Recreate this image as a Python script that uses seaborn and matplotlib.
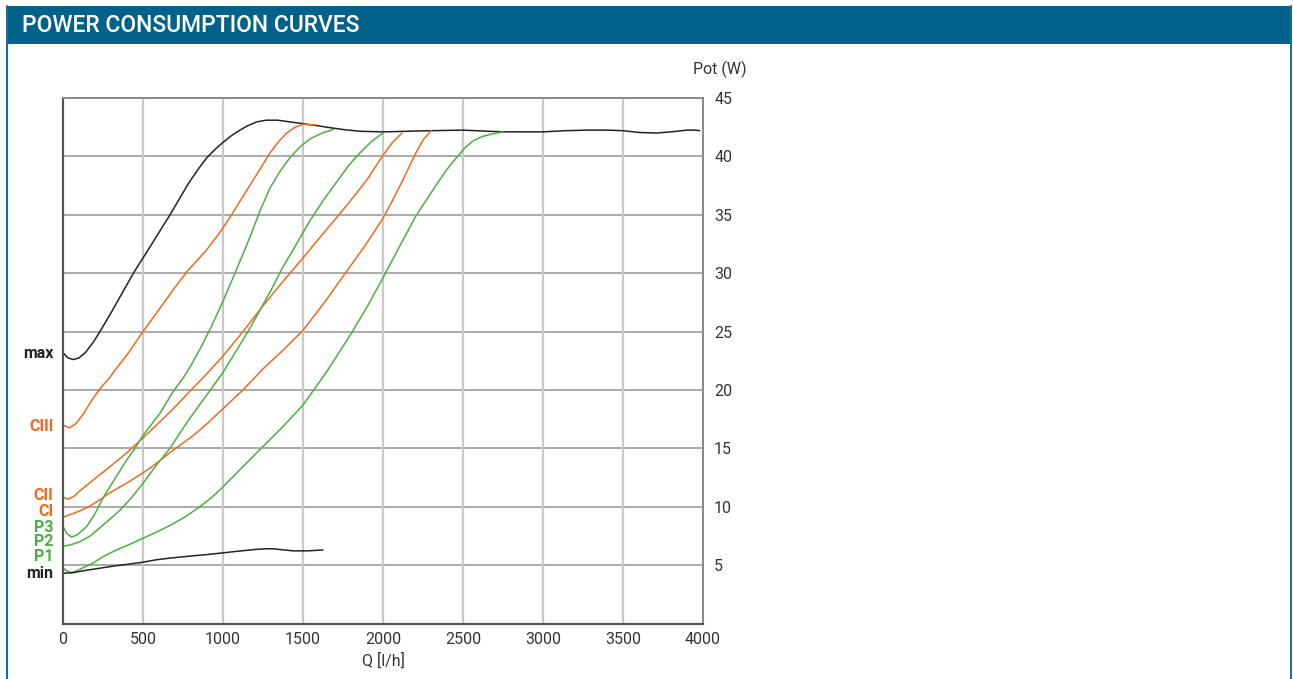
import pandas as pd
import matplotlib.pyplot as plt
from matplotlib.patches import Rectangle
from matplotlib.lines import Line2D
import seaborn as sns

# Curves: flow Q [l/h] vs power Pot [W]
max_q = [0, 30, 65, 100, 140, 190, 231, 300, 370, 440, 555, 669, 785, 850, 900, 950, 1000, 1050,
         1100, 1150, 1210, 1270, 1340, 1420, 1500, 1580, 1648, 1750, 1855, 2000, 2150, 2294, 2500,
         2750, 3000, 3140, 3275, 3400, 3500, 3600, 3710, 3800, 3900, 3950, 3980]
max_p = [23.2, 22.75, 22.6, 22.75, 23.2, 24.1, 25.0, 26.6, 28.3, 30.0, 32.5, 35.0, 37.7, 39.0, 39.9,
         40.6, 41.2, 41.75, 42.2, 42.6, 42.95, 43.1, 43.1, 42.95, 42.8, 42.65, 42.5, 42.3, 42.15, 42.1,
         42.15, 42.2, 42.25, 42.1, 42.1, 42.2, 42.25, 42.25, 42.2, 42.05, 42.0, 42.1, 42.25, 42.25, 42.2]

ciii_q = [0, 40, 80, 130, 179, 231, 300, 336, 400, 500, 606, 690, 773, 898, 981, 1040, 1085, 1140,
          1190, 1245, 1294, 1350, 1398, 1450, 1500, 1580]
ciii_p = [17.0, 16.75, 17.1, 18.0, 19.1, 20.1, 21.2, 21.9, 23.0, 25.0, 27.0, 28.6, 30.1, 32.0, 33.5, 34.7,
          35.7, 36.9, 38.0, 39.2, 40.3, 41.3, 42.0, 42.5, 42.75, 42.7]

cii_q = [0, 31, 70, 100, 190, 300, 398, 500, 585, 690, 794, 900, 1000, 1125, 1250, 1375, 1500, 1620,
         1731, 1820, 1900, 2000, 2060, 2119]
cii_p = [10.8, 10.65, 10.9, 11.3, 12.3, 13.5, 14.6, 15.9, 17.0, 18.4, 19.9, 21.4, 22.9, 25.0, 27.2, 29.3,
         31.3, 33.3, 35.1, 36.6, 38.0, 40.1, 41.2, 42.0]

ci_q = [0, 70, 148, 220, 294, 420, 544, 690, 815, 900, 1000, 1125, 1250, 1375, 1500, 1640, 1775, 1890,
        2000, 2070, 2125, 2170, 2206, 2250, 2300]
ci_p = [9.1, 9.45, 9.9, 10.5, 11.2, 12.2, 13.3, 14.85, 16.1, 17.1, 18.4, 20.0, 21.8, 23.4, 25.1, 27.6,
        30.2, 32.4, 34.7, 36.5, 38.0, 39.3, 40.3, 41.4, 42.2]

p3_q = [0, 25, 54, 90, 148, 200, 252, 320, 398, 450, 500, 606, 690, 750, 800, 860, 919, 960, 1000,
        1075, 1169, 1230, 1294, 1360, 1419, 1480, 1544, 1620, 1690]
p3_p = [8.3, 7.7, 7.4, 7.6, 8.3, 9.4, 10.8, 12.3, 14.0, 15.0, 16.1, 18.0, 19.9, 21.0, 22.1, 23.6, 25.2,
        26.4, 27.6, 30.0, 33.1, 35.3, 37.3, 38.8, 39.9, 40.8, 41.5, 42.0, 42.3]

p2_q = [0, 50, 106, 170, 231, 290, 356, 430, 500, 580, 669, 730, 794, 900, 1000, 1085, 1169, 1250,
        1310, 1369, 1438, 1544, 1630, 1710, 1790, 1856, 1930, 2000]
p2_p = [6.6, 6.75, 7.0, 7.5, 8.2, 8.9, 9.7, 10.8, 12.0, 13.5, 15.0, 16.3, 17.6, 19.6, 21.5, 23.4, 25.3,
        27.3, 28.8, 30.4, 32.0, 34.5, 36.3, 37.8, 39.3, 40.3, 41.3, 42.0]

p1_q = [0, 25, 54, 100, 190, 260, 335, 420, 500, 580, 669, 760, 856, 930, 1000, 1115, 1231, 1370,
        1500, 1650, 1800, 1900, 2000, 2100, 2210, 2335, 2400, 2460, 2510, 2560, 2620, 2690, 2750]
p1_p = [4.75, 4.5, 4.35, 4.6, 5.2, 5.8, 6.3, 6.8, 7.3, 7.8, 8.4, 9.1, 10.0, 10.8, 11.7, 13.3, 14.9, 16.8,
        18.7, 21.6, 24.8, 27.1, 29.6, 32.2, 35.0, 37.6, 38.9, 39.9, 40.7, 41.3, 41.7, 41.95, 42.1]

min_q = [0, 63, 120, 190, 260, 335, 420, 500, 580, 669, 740, 815, 900, 1000, 1100, 1210, 1265, 1315,
         1380, 1440, 1530, 1625]
min_p = [4.3, 4.35, 4.5, 4.65, 4.8, 4.95, 5.1, 5.25, 5.45, 5.6, 5.7, 5.8, 5.9, 6.05, 6.2, 6.35, 6.4, 6.4,
         6.3, 6.22, 6.22, 6.3]

curve_names = ["max", "CIII", "CII", "CI", "P3", "P2", "P1", "min"]
curve_q = [max_q, ciii_q, cii_q, ci_q, p3_q, p2_q, p1_q, min_q]
curve_p = [max_p, ciii_p, cii_p, ci_p, p3_p, p2_p, p1_p, min_p]
label_pos = [23.1, 16.9, 11.0, 9.6, 8.2, 7.05, 5.7, 4.25]

x_ticks = [0, 500, 1000, 1500, 2000, 2500, 3000, 3500, 4000]
y_ticks = [5, 10, 15, 20, 25, 30, 35, 40, 45]

BLACK = "#222222"
ORANGE = "#ee6a1f"
GREEN = "#4bb03f"
HEADER = "#00628b"
BORDER = "#1a6e96"
TEXT = "#333333"
colors = {"max": BLACK, "CIII": ORANGE, "CII": ORANGE, "CI": ORANGE,
          "P3": GREEN, "P2": GREEN, "P1": GREEN, "min": BLACK}

rows = []
for name, qs, ps in zip(curve_names, curve_q, curve_p):
    for q, p in zip(qs, ps):
        rows.append({"curve": name, "Q": q, "P": p})
df = pd.DataFrame(rows)

sns.set_theme(style="white")
plt.rcParams["font.family"] = ["Roboto", "DejaVu Sans"]

W, H = 1293, 679
fig = plt.figure(figsize=(W / 100, H / 100), dpi=100, facecolor="white")

# panel frame (left/right edges only) + header bar, in figure pixel coords
for x in [7, 1291]:
    fig.add_artist(Line2D([x / W, x / W], [1 - 6 / H, 0], transform=fig.transFigure,
                          color=BORDER, linewidth=1.5))
fig.patches.append(Rectangle((7 / W, 1 - 44 / H), (1291 - 7) / W, 38 / H, transform=fig.transFigure,
                             facecolor=HEADER, edgecolor="none"))
fig.text(22 / W, 1 - 26 / H, "POWER CONSUMPTION CURVES", color="white", fontsize=16.5,
         fontweight="medium", va="center", ha="left")

ax = fig.add_axes([63 / W, 1 - 623.5 / H, 640 / W, (623.5 - 98) / H])
sns.lineplot(data=df, x="Q", y="P", hue="curve", palette=colors, sort=False, estimator=None,
             linewidth=1.1, legend=False, ax=ax)

ax.set_xlim(0, 4000)
ax.set_ylim(0, 45)
ax.set_xticks(x_ticks)
ax.set_yticks(y_ticks)
ax.yaxis.tick_right()
ax.tick_params(axis="both", length=0, labelsize=11.5, labelcolor=TEXT)
ax.tick_params(axis="y", pad=8)
ax.tick_params(axis="x", pad=6)

ax.grid(False)
for y in y_ticks[:-1]:
    ax.axhline(y, color="#aaaaaa", linewidth=1.4, zorder=0)
for x in x_ticks[1:-1]:
    ax.axvline(x, color="#c8c8c8", linewidth=1.6, zorder=0)

for side in ["left", "bottom"]:
    ax.spines[side].set_color("#555555")
    ax.spines[side].set_linewidth(1.6)
for side in ["top", "right"]:
    ax.spines[side].set_color("#888888")
    ax.spines[side].set_linewidth(1.4)

ax.set_xlabel("Q [l/h]", fontsize=11.5, color=TEXT, labelpad=4)
ax.set_ylabel("")
fig.text(720 / W, 1 - 69 / H, "Pot (W)", fontsize=11.5, color=TEXT, ha="center", va="center")

for name, yp in zip(curve_names, label_pos):
    ax.text(-0.015, yp, name, transform=ax.get_yaxis_transform(), ha="right", va="center",
            fontsize=11.5, fontweight="bold", color=colors[name])

plt.savefig("out.png", dpi=100, facecolor="white")
